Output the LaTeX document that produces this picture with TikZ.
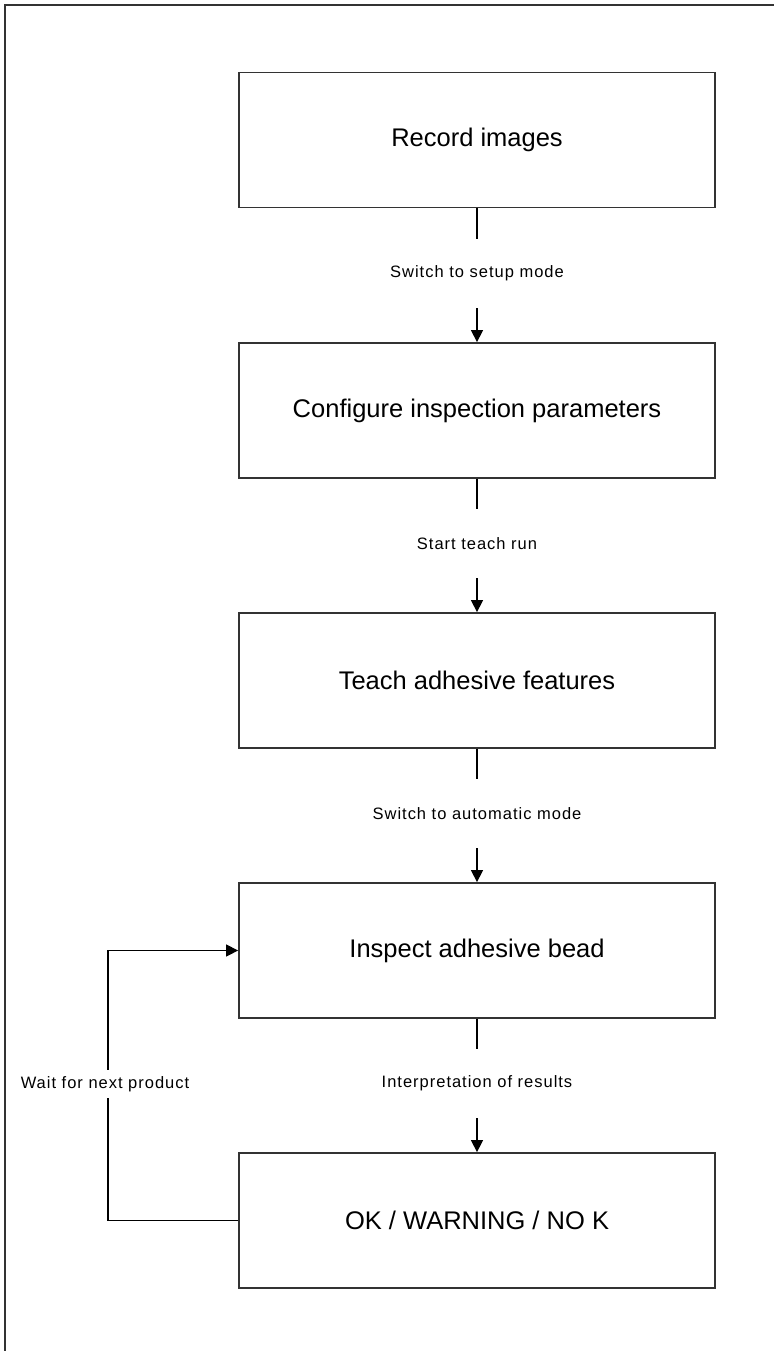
\documentclass[tikz,border=0pt]{standalone}
\usepackage{fontspec}
\setmainfont{Liberation Sans}
\newfontfamily\lblfont[LetterSpace=6]{Liberation Sans}
\usetikzlibrary{arrows.meta}

\tikzset{
    frame/.style={draw=black!80, line width=2pt},
    stepbox/.style={draw=black!80, line width=1.8pt, minimum width=476pt,
        minimum height=135pt, inner sep=0pt, font=\fontsize{25.5}{30}\selectfont},
    steplabel/.style={minimum height=69pt, inner sep=0pt,
        font=\lblfont\fontsize{16.5}{19}\selectfont},
    looplabel/.style={minimum height=28pt, inner sep=0pt, fill=white,
        font=\lblfont\fontsize{16.5}{19}\selectfont},
    conn/.style={draw=black, line width=1.4pt},
}

\begin{document}
\begin{tikzpicture}[x=1pt, y=-1pt, >={Triangle[length=12pt,width=12pt]}]
    \useasboundingbox (0,0) rectangle (774,1351);
    \draw[frame] (5,1351) -- (5,5) -- (774,5);

    % process steps
    \node[stepbox] (rec)  at (477, 140.0) {Record images};
    \node[stepbox] (cfg)  at (477, 410.5) {Configure inspection parameters};
    \node[stepbox] (tch)  at (477, 680.5) {Teach adhesive features};
    \node[stepbox] (insp) at (477, 950.5) {Inspect adhesive bead};
    \node[stepbox] (res)  at (477,1220.5) {OK / WARNING / NO K};

    % transitions
    \node[steplabel] (l1) at (477, 273.5) {Switch to setup mode};
    \node[steplabel] (l2) at (477, 543.5) {Start teach run};
    \node[steplabel] (l3) at (477, 813.5) {Switch to automatic mode};
    \node[steplabel] (l4) at (477,1083.5) {Interpretation of results};
    \node[looplabel] (wait) at (105,1084) {Wait for next product};

    \foreach \a/\l/\b in {rec/l1/cfg, cfg/l2/tch, tch/l3/insp, insp/l4/res} {
        \draw[conn] (\a) -- (\l);
        \draw[conn,->] (\l) -- (\b);
    }

    % loop back
    \draw[conn] (res.west) -| ([xshift=3pt]wait.south);
    \draw[conn,->] ([xshift=3pt]wait.north) |- (insp.west);
\end{tikzpicture}
\end{document}
